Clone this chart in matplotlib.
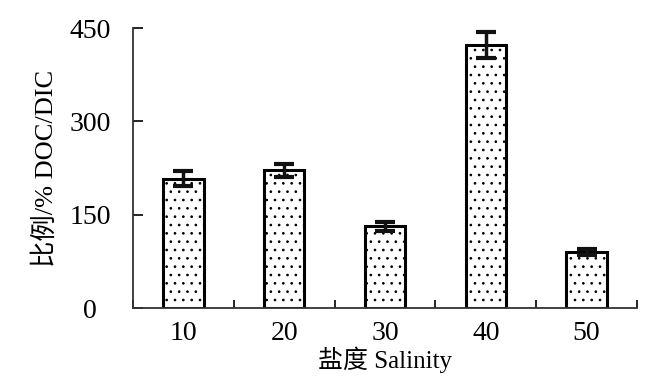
import matplotlib
matplotlib.use("Agg")
import matplotlib.pyplot as plt
import numpy as np

categories = ["10", "20", "30", "40", "50"]
values = [208, 221, 131, 423, 90]
errors = [12, 11, 7, 21, 5]
yticks = [0, 150, 300, 450]

plt.rcParams['font.family'] = ['Liberation Serif', 'Noto Sans CJK SC']
plt.rcParams['hatch.linewidth'] = 0.7
plt.rcParams['hatch.color'] = '#444444'

fig = plt.figure(figsize=(6.69, 3.8), dpi=100)
ax = fig.add_axes([133/669, 1-308/380, (637-133)/669, (308-28)/380])

x = np.arange(len(categories))
ax.bar(x, values, width=0.4, facecolor='white', edgecolor='black', linewidth=2.2,
       hatch='..', zorder=2)
ax.errorbar(x, values, yerr=errors, fmt='none', ecolor='#111111', elinewidth=2.5,
            capsize=7, capthick=3, zorder=3)

ax.set_xlim(-0.5, len(categories) - 0.5)
ax.set_ylim(0, 450)
ax.set_yticks(yticks)
ax.set_yticklabels([str(v) for v in yticks], fontsize=20)
ax.set_xticks(x)
ax.set_xticklabels(categories, fontsize=20)
ax.tick_params(axis='x', length=0, pad=9)
ax.set_xticks(np.arange(len(categories) + 1) - 0.5, minor=True)
ax.tick_params(axis='x', which='minor', direction='in', length=6, width=1.2)
ax.tick_params(axis='y', direction='in', length=7, width=1.2, pad=31)
for lab in ax.get_yticklabels():
    lab.set_horizontalalignment('center')

for s in ['top', 'right']:
    ax.spines[s].set_visible(False)
for s in ['left', 'bottom']:
    ax.spines[s].set_linewidth(1.3)
    ax.spines[s].set_color('#333333')

ax.set_xlabel("盐度 Salinity", fontsize=18, labelpad=1)
ax.set_ylabel("比例/% DOC/DIC", fontsize=19, labelpad=8)

fig.savefig("out.png", dpi=100)
